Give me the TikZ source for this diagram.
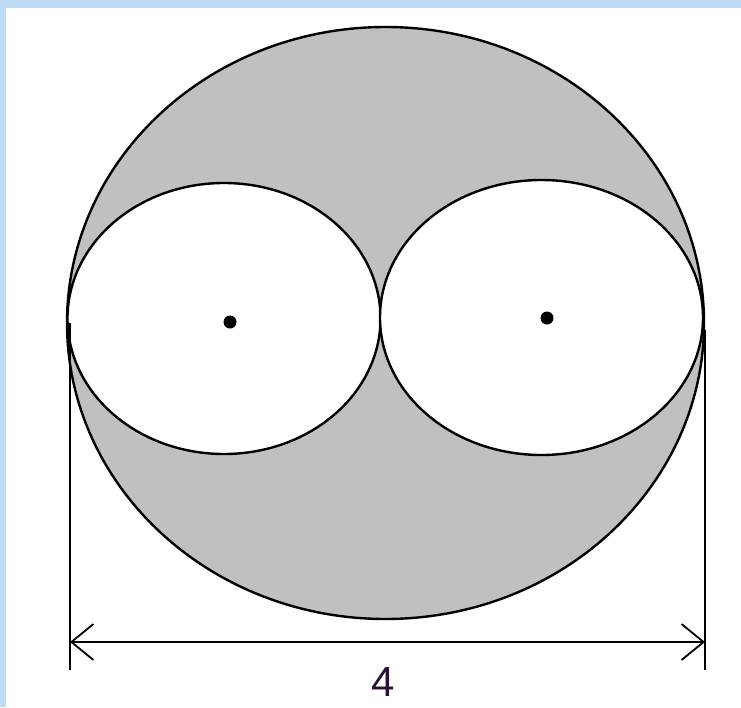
\documentclass[tikz,border=0pt]{standalone}
\usepackage{fontspec}
\setmainfont{Liberation Sans}
\usetikzlibrary{arrows.meta}
\definecolor{bgblue}{RGB}{190,220,246}
\definecolor{shade}{RGB}{192,192,192}
\definecolor{labelcol}{RGB}{40,20,50}
\tikzset{
  outline/.style={draw=black, line width=2.4pt},
  hole/.style={outline, fill=white},
  dotmark/.style={fill=black},
  extline/.style={draw=black, line width=2pt},
  dimline/.style={draw=black, line width=2pt, {Straight Barb[length=22pt,width=36pt,line width=1.8pt]}-{Straight Barb[length=22pt,width=36pt,line width=1.8pt]}},
}
\begin{document}
\begin{tikzpicture}[x=1pt,y=-1pt]
\useasboundingbox (0,0) rectangle (741,707);
\fill[bgblue] (0,0) rectangle (741,707);
\fill[white] (6,8) rectangle (741,707);
% big circle
\path[outline, fill=shade] (385.5,323) ellipse [x radius=318.5, y radius=296];
% small circles
\path[hole] (224,318.5) ellipse [x radius=156.5, y radius=135.5];
\path[hole] (541.5,317.5) ellipse [x radius=161.5, y radius=137.5];
% centres
\fill[dotmark] (230,322) circle (6.5);
\fill[dotmark] (547,318) circle (6.5);
% dimension
\coordinate (lt) at (70,323);
\coordinate (lb) at (70,670);
\coordinate (rt) at (705,330);
\coordinate (rb) at (705,670);
\coordinate (la) at (70,642);
\coordinate (ra) at (705,642);
\draw[extline] (lt) -- (lb);
\draw[extline] (rt) -- (rb);
\draw[dimline] (la) -- (ra);
\node[text=labelcol, font=\fontsize{42}{46}\selectfont, anchor=base, inner sep=0pt] (lab) at (383,696) {4};
\end{tikzpicture}
\end{document}
